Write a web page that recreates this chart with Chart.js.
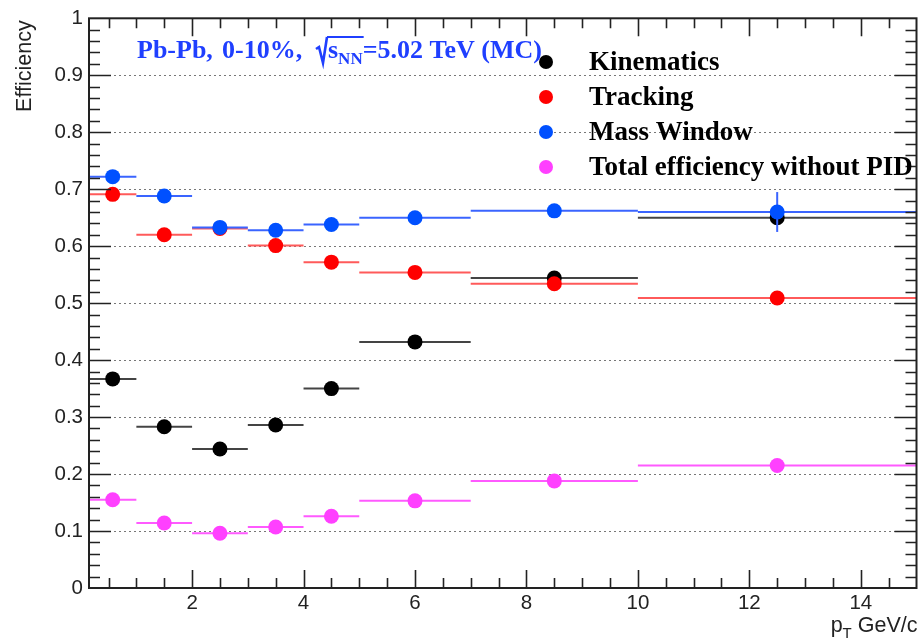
<!DOCTYPE html>
<html>
<head>
<meta charset="utf-8">
<title>Efficiency vs pT</title>
<script src="https://cdn.jsdelivr.net/npm/chart.js"></script>
<style>
  html, body { margin: 0; padding: 0; background: #fff; }
  #wrap { width: 924px; height: 640px; }
</style>
</head>
<body>
<div id="wrap"><canvas id="effChart" width="924" height="640"></canvas></div>
<script>
  // pT bins (GeV/c)
  const binLow     = [0.15, 1, 2, 3, 4, 5, 7, 10];
  const binHigh    = [1, 2, 3, 4, 5, 7, 10, 15];
  const binCenters = [0.575, 1.5, 2.5, 3.5, 4.5, 6, 8.5, 12.5];

  // efficiencies per bin
  const kinematics = [0.367, 0.283, 0.244, 0.286, 0.350, 0.432, 0.544, 0.650];
  const tracking   = [0.691, 0.620, 0.631, 0.601, 0.572, 0.554, 0.534, 0.509];
  const massWindow = [0.722, 0.688, 0.633, 0.628, 0.638, 0.650, 0.662, 0.660];
  const totalNoPID = [0.155, 0.114, 0.096, 0.107, 0.126, 0.153, 0.188, 0.215];
  const massWindowErr = [0, 0, 0, 0, 0, 0, 0, 0.035];

  const seriesNames = ['Kinematics', 'Tracking', 'Mass Window', 'Total efficiency without PID'];

  const xTickLabels = [2, 4, 6, 8, 10, 12, 14];
  const yTickLabels = [0, 0.1, 0.2, 0.3, 0.4, 0.5, 0.6, 0.7, 0.8, 0.9, 1];

  const markerColors = ['#000000', '#ff0000', '#0050ff', '#ff40ff'];
  const barColors    = ['#444444', '#ff5a5a', '#3a64ff', '#ff5aff'];

  function points(vals) {
    return vals.map((v, i) => ({ x: binCenters[i], y: v }));
  }

  const allSeries = [kinematics, tracking, massWindow, totalNoPID];
  const allErrs = [null, null, massWindowErr, null];

  // horizontal bin-width bars and vertical errors, drawn under each dataset's markers
  const errorBars = {
    id: 'errorBars',
    beforeDatasetDraw(chart, args) {
      const i = args.index;
      const vals = allSeries[i];
      const errs = allErrs[i];
      const xs = chart.scales.x, ys = chart.scales.y;
      const ctx = chart.ctx;
      ctx.save();
      ctx.strokeStyle = barColors[i];
      ctx.lineWidth = 2;
      vals.forEach((v, k) => {
        const py = ys.getPixelForValue(v);
        ctx.beginPath();
        ctx.moveTo(xs.getPixelForValue(binLow[k]), py);
        ctx.lineTo(xs.getPixelForValue(binHigh[k]), py);
        ctx.stroke();
        if (errs && errs[k] > 0) {
          const px = xs.getPixelForValue(binCenters[k]);
          ctx.beginPath();
          ctx.moveTo(px, ys.getPixelForValue(v - errs[k]));
          ctx.lineTo(px, ys.getPixelForValue(v + errs[k]));
          ctx.stroke();
        }
      });
      ctx.restore();
    }
  };

  // dotted horizontal grid
  const dottedGrid = {
    id: 'dottedGrid',
    beforeDatasetsDraw(chart) {
      const { ctx, chartArea: a } = chart;
      const ys = chart.scales.y;
      ctx.save();
      ctx.strokeStyle = '#777';
      ctx.lineWidth = 1.2;
      ctx.setLineDash([2, 3]);
      yTickLabels.forEach(v => {
        if (v <= 0 || v >= 1) return;
        const py = Math.round(ys.getPixelForValue(v)) + 0.5;
        ctx.beginPath();
        ctx.moveTo(a.left, py);
        ctx.lineTo(a.right, py);
        ctx.stroke();
      });
      ctx.restore();
    }
  };

  // frame, inward ticks, axis titles, header text and legend
  const decorations = {
    id: 'decorations',
    afterDraw(chart) {
      const { ctx, chartArea: a } = chart;
      const xs = chart.scales.x, ys = chart.scales.y;
      ctx.save();
      ctx.strokeStyle = '#222';
      ctx.lineWidth = 2;
      ctx.strokeRect(a.left, a.top, a.right - a.left, a.bottom - a.top);

      ctx.beginPath();
      for (let v = 0.5; v < 15; v += 0.5) {
        const px = Math.round(xs.getPixelForValue(v)) + 0.5;
        if (px <= a.left + 1) continue;
        const len = (v % 2 === 0) ? 18 : 10;
        ctx.moveTo(px, a.bottom); ctx.lineTo(px, a.bottom - len);
        ctx.moveTo(px, a.top); ctx.lineTo(px, a.top + len);
      }
      for (let k = 1; k < 50; k++) {
        const v = k * 0.02;
        const py = Math.round(ys.getPixelForValue(v)) + 0.5;
        const len = (k % 5 === 0) ? 22 : 11;
        ctx.moveTo(a.left, py); ctx.lineTo(a.left + len, py);
        ctx.moveTo(a.right, py); ctx.lineTo(a.right - len, py);
      }
      ctx.lineWidth = 1.6;
      ctx.stroke();

      // y title
      ctx.fillStyle = '#222';
      ctx.font = '21.5px "Liberation Sans", Arial, sans-serif';
      ctx.save();
      ctx.translate(31, a.top + 2);
      ctx.rotate(-Math.PI / 2);
      ctx.textAlign = 'right';
      ctx.textBaseline = 'alphabetic';
      ctx.fillText('Efficiency', 0, 0);
      ctx.restore();

      // x title: p_T GeV/c, right aligned
      const mainFont = '21.5px "Liberation Sans", Arial, sans-serif';
      const subFont = '15px "Liberation Sans", Arial, sans-serif';
      ctx.textBaseline = 'alphabetic';
      ctx.textAlign = 'left';
      ctx.font = mainFont;
      const wP = ctx.measureText('p').width;
      const wRest = ctx.measureText(' GeV/c').width;
      ctx.font = subFont;
      const wT = ctx.measureText('T').width;
      let tx = a.right + 1 - (wP + wT + wRest);
      const by = 632;
      ctx.font = mainFont;
      ctx.fillText('p', tx, by); tx += wP;
      ctx.font = subFont;
      ctx.fillText('T', tx, by + 6); tx += wT;
      ctx.font = mainFont;
      ctx.fillText(' GeV/c', tx, by);

      // header text
      ctx.fillStyle = '#1f3fff';
      ctx.strokeStyle = '#1f3fff';
      const hFont = 'bold 26px "Liberation Serif", "Times New Roman", serif';
      const hSub = 'bold 17px "Liberation Serif", "Times New Roman", serif';
      const hy = 58;
      ctx.font = hFont;
      ctx.fillText('Pb-Pb,', 137, hy);
      ctx.fillText('0-10%,', 222, hy);
      const hx = 316;
      // radical sign
      ctx.lineWidth = 2.6;
      ctx.beginPath();
      ctx.moveTo(hx, hy - 9);
      ctx.lineTo(hx + 3, hy - 11);
      ctx.lineTo(hx + 7, hy + 5);
      ctx.lineTo(hx + 11, hy - 21);
      ctx.stroke();
      const sx = hx + 12;
      ctx.fillText('s', sx, hy);
      const ws = ctx.measureText('s').width;
      ctx.font = hSub;
      ctx.fillText('NN', sx + ws, hy + 6);
      const wnn = ctx.measureText('NN').width;
      ctx.lineWidth = 1.8;
      ctx.beginPath();
      ctx.moveTo(hx + 11, hy - 21);
      ctx.lineTo(sx + ws + wnn + 1, hy - 21);
      ctx.stroke();
      ctx.font = hFont;
      ctx.fillText('=5.02 TeV (MC)', sx + ws + wnn, hy);

      // legend
      const legY = [62, 97, 132, 167];
      ctx.font = 'bold 27px "Liberation Serif", "Times New Roman", serif';
      ctx.textBaseline = 'alphabetic';
      seriesNames.forEach((name, i) => {
        ctx.fillStyle = markerColors[i];
        ctx.beginPath();
        ctx.arc(546, legY[i], 7, 0, Math.PI * 2);
        ctx.fill();
        ctx.fillStyle = '#000';
        ctx.fillText(name, 589, legY[i] + 7.5);
      });
      ctx.restore();
    }
  };

  const tickFont = { family: '"Liberation Sans", Arial, sans-serif', size: 20.5 };

  new Chart(document.getElementById('effChart'), {
    type: 'scatter',
    data: {
      datasets: allSeries.map((vals, i) => ({
        label: seriesNames[i],
        data: points(vals),
        backgroundColor: markerColors[i],
        borderColor: markerColors[i],
        borderWidth: 0,
        pointRadius: 7.5,
        pointHoverRadius: 7.5,
        order: 4 - i
      }))
    },
    options: {
      responsive: false,
      animation: false,
      events: [],
      layout: { padding: { top: 16, right: 5, left: 0, bottom: 0 } },
      plugins: {
        legend: { display: false },
        tooltip: { enabled: false }
      },
      scales: {
        x: {
          type: 'linear',
          min: 0.15,
          max: 15,
          afterBuildTicks: s => { s.ticks = xTickLabels.map(v => ({ value: v })); },
          afterFit: s => { s.height = 52; },
          grid: { display: false, drawTicks: false },
          border: { display: false },
          ticks: { font: tickFont, color: '#222', padding: 3, maxRotation: 0, autoSkip: false }
        },
        y: {
          min: 0,
          max: 1,
          afterBuildTicks: s => { s.ticks = yTickLabels.map(v => ({ value: v })); },
          afterFit: s => { s.width = 89; },
          grid: { display: false, drawTicks: false },
          border: { display: false },
          ticks: {
            font: tickFont,
            color: '#222',
            padding: 6,
            autoSkip: false,
            callback: v => (v === 0 || v === 1) ? String(v) : v.toFixed(1)
          }
        }
      }
    },
    plugins: [dottedGrid, errorBars, decorations]
  });
</script>
</body>
</html>
